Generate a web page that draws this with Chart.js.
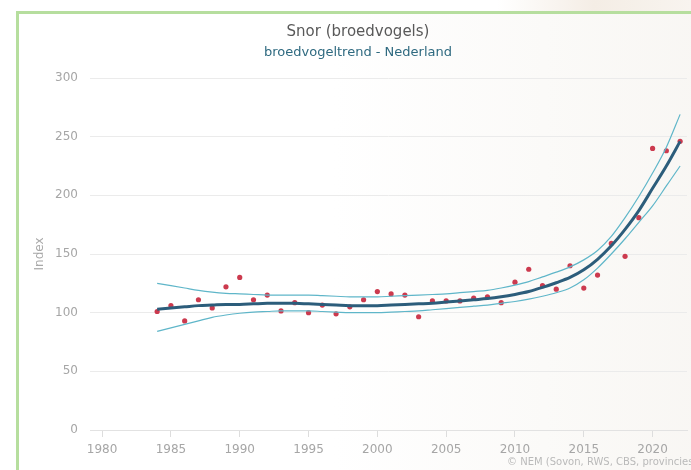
<!DOCTYPE html>
<html><head><meta charset="utf-8">
<script src="https://cdn.jsdelivr.net/npm/chart.js@4/dist/chart.umd.min.js"></script>
<style>
html,body{margin:0;padding:0;width:691px;height:470px;overflow:hidden;background:#ffffff;}
#topstrip{position:absolute;left:0;top:0;width:691px;height:12px;
  background:linear-gradient(to right,#ffffff 0%,#ffffff 72%,#f4ede5 86%,#f8f4ef 100%);}
#frame{position:absolute;left:16px;top:11px;width:700px;height:470px;
  border-left:3px solid #b6de9e;border-top:3px solid #b6de9e;
  background:linear-gradient(to right,#ffffff 0%,#ffffff 45%,#fbfaf8 75%,#f8f6f3 100%);}
#wrap{position:absolute;left:0;top:0;width:691px;height:470px;}
#credit{position:absolute;left:507px;top:456px;font:10px "DejaVu Sans",sans-serif;color:#bababa;white-space:nowrap;}
</style></head>
<body>
<div id="topstrip"></div>
<div id="frame"></div>
<div id="wrap"><canvas id="c" width="691" height="470"></canvas></div>
<div id="credit">© NEM (Sovon, RWS, CBS, provincies)</div>
<script>
const chartTitle = "Snor (broedvogels)";
const chartSubtitle = "broedvogeltrend - Nederland";
const yAxisTitle = "Index";
const years = [1984,1985,1986,1987,1988,1989,1990,1991,1992,1993,
               1994,1995,1996,1997,1998,1999,2000,2001,2002,2003,
               2004,2005,2006,2007,2008,2009,2010,2011,2012,2013,
               2014,2015,2016,2017,2018,2019,2020,2021,2022];
const observed = [101,106,93,111,104,122,130,111,115,101.5,
                  108.5,100,106.5,99,105,111,118,116,115,96.5,
                  110,110,110,112.5,113.5,108.5,126,137,123,120,
                  140,121,132,159,148,181,240,238,246];
const trend = [103,104,105,106,106.5,107,107,107.5,108,108,
               108,107.5,107,106.5,106,106,106,106.5,107,107.5,
               108,109,110,111,112,113.5,115.5,118,121.5,125.5,
               130,136.5,145.5,157,171,187,206,225,246];
const upper = [125,123,121,119,117.5,116.5,116,115.5,115,115,
               115,115,114.5,114,113.5,113.5,113.5,114,114.5,115,
               115.5,116,117,118,119,121,123.5,126.5,130.5,134.5,
               139,145,153,165,181,199,219,241,269];
const lower = [84,87,90,93,96,98,99.5,100.5,101,101.5,
               101.5,101.5,101,100.5,100,100,100,100.5,101,101.5,
               102.5,103.5,104.5,105.5,106.5,108,109.5,111.5,114,117,
               121,128,138,150,163,177,191,208,225];
const xTicks = [1980,1985,1990,1995,2000,2005,2010,2015,2020];
const yTicks = [0,50,100,150,200,250,300];

const FONT = '"DejaVu Sans", "Lucida Grande", sans-serif';
const pts = arr => years.map((y,i)=>({x:y,y:arr[i]}));

const titlePlugin = {
  id:'titles',
  afterDraw(chart){
    const ctx = chart.ctx;
    ctx.save();
    ctx.textAlign='center'; ctx.textBaseline='middle';
    ctx.font = '15px ' + FONT; ctx.fillStyle = '#595959';
    ctx.fillText(chartTitle, 358, 32);
    ctx.font = '13px ' + FONT; ctx.fillStyle = '#2f6a80';
    ctx.fillText(chartSubtitle, 358, 53);
    ctx.restore();
  }
};

new Chart(document.getElementById('c'), {
  type:'scatter',
  data:{datasets:[
    {label:'waarneming', data:pts(observed), showLine:false, pointRadius:2.6,
     pointBackgroundColor:'#cc3a4e', pointBorderWidth:0, order:5},
    {label:'bovengrens', data:pts(upper), showLine:true, pointRadius:0,
     borderColor:'#5fb6c9', borderWidth:1.2, cubicInterpolationMode:'monotone', order:3},
    {label:'ondergrens', data:pts(lower), showLine:true, pointRadius:0,
     borderColor:'#5fb6c9', borderWidth:1.2, cubicInterpolationMode:'monotone', order:2},
    {label:'trend', data:pts(trend), showLine:true, pointRadius:0,
     borderColor:'#2c5d7b', borderWidth:3, cubicInterpolationMode:'monotone', order:1}
  ]},
  options:{
    responsive:false, animation:false, devicePixelRatio:1,
    layout:{padding:{top:78,left:0,right:0,bottom:0}},
    plugins:{legend:{display:false}, tooltip:{enabled:false}},
    scales:{
      x:{type:'linear', min:1979.12, max:2022.5,
         afterBuildTicks:s=>{s.ticks = xTicks.map(v=>({value:v}));},
         afterFit:s=>{s.height=40;},
         grid:{drawOnChartArea:false, drawTicks:true, tickLength:7, color:'#dddddd'},
         border:{display:true, color:'#e2e2e2'},
         ticks:{font:{size:12,family:FONT}, color:'#a6a6a6', padding:6, maxRotation:0, autoSkip:false,
                callback:v=>String(v)}},
      y:{min:0, max:300,
         afterBuildTicks:s=>{s.ticks = yTicks.map(v=>({value:v}));},
         afterFit:s=>{s.width=90;},
         grid:{color:'#ebebeb', drawTicks:false},
         border:{display:false},
         ticks:{font:{size:12,family:FONT}, color:'#a6a6a6', padding:12},
         title:{display:true, text:yAxisTitle, color:'#a8a8a8', font:{size:12,family:FONT}, padding:{top:33,bottom:0}}}
    }
  },
  plugins:[titlePlugin]
});
</script>
</body></html>
